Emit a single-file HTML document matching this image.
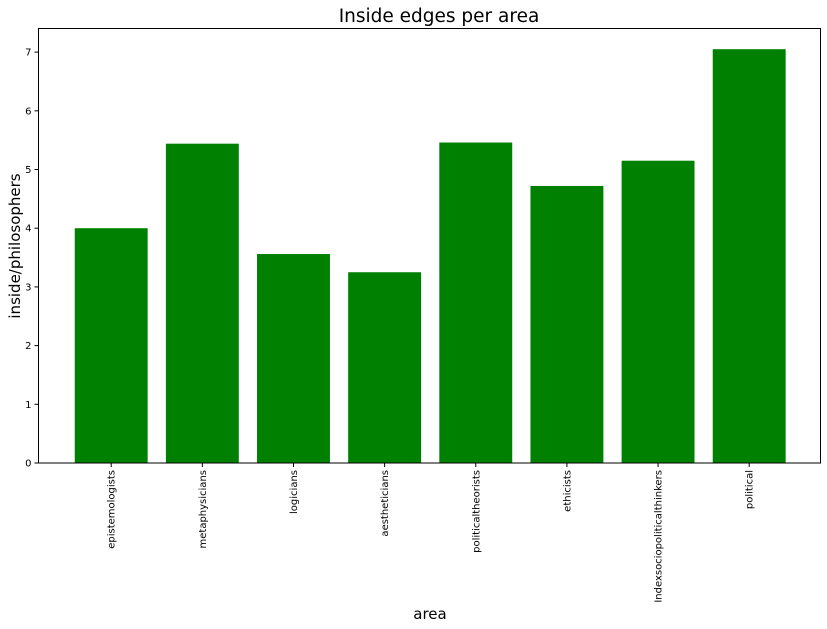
<!DOCTYPE html>
<html><head><meta charset="utf-8">
<style>
html,body{margin:0;padding:0;background:#fff;}
svg{display:block;font-family:"DejaVu Sans","Liberation Sans",sans-serif;}
</style></head>
<body>
<svg id="chart" width="827" height="629" viewBox="0 0 827 629">
<text x="439" y="22" font-size="18.5" text-anchor="middle" fill="#000">Inside edges per area</text>
<text x="430" y="619" font-size="15" text-anchor="middle" fill="#000">area</text>
<text transform="translate(20,246) rotate(-90)" font-size="15" text-anchor="middle" fill="#000">inside/philosophers</text>
<g id="bars"></g>
<g id="yticks"></g>
<g id="xticks"></g>
<rect x="38.5" y="28.5" width="782" height="434.5" fill="none" stroke="#000" stroke-width="1"/>
</svg>
<script>
const categories = ["epistemologists","metaphysicians","logicians","aestheticians","politicaltheorists","ethicists","Indexsociopoliticalthinkers","political"];
const values = [4.0, 5.44, 3.56, 3.25, 5.46, 4.72, 5.15, 7.05];
const yTicks = [0,1,2,3,4,5,6,7];

const NS = "http://www.w3.org/2000/svg";
const plotL = 39.2, plotR = 821.2, plotT = 28.5, plotB = 463;
const maxV = Math.max(...values);
const yMax = maxV * 1.05;
const n = categories.length;
const xMin = -0.4 - 0.05 * (n - 1 + 0.8), xMax = n - 1 + 0.4 + 0.05 * (n - 1 + 0.8);
function xScale(i){ return plotL + (i - xMin) / (xMax - xMin) * (plotR - plotL); }
function yScale(v){ return plotB - v / yMax * (plotB - plotT); }
const unit = (plotR - plotL) / (xMax - xMin);

const bars = document.getElementById('bars');
values.forEach((v, i) => {
  const r = document.createElementNS(NS, 'rect');
  r.setAttribute('x', xScale(i - 0.4));
  r.setAttribute('width', unit * 0.8);
  r.setAttribute('y', yScale(v));
  r.setAttribute('height', yScale(0) - yScale(v));
  r.setAttribute('fill', '#008000');
  
  
  bars.appendChild(r);
});

const yg = document.getElementById('yticks');
yTicks.forEach(t => {
  const y = yScale(t);
  const l = document.createElementNS(NS, 'line');
  l.setAttribute('x1', 34.5); l.setAttribute('x2', 38.5);
  l.setAttribute('y1', y); l.setAttribute('y2', y);
  l.setAttribute('stroke', '#000');
  
  
  yg.appendChild(l);
  const tx = document.createElementNS(NS, 'text');
  tx.setAttribute('x', 31.5); tx.setAttribute('y', y + 3.5);
  tx.setAttribute('font-size', '10'); tx.setAttribute('text-anchor', 'end');
  tx.textContent = t;
  
  
  yg.appendChild(tx);
});

const xg = document.getElementById('xticks');
categories.forEach((c, i) => {
  const x = xScale(i);
  const l = document.createElementNS(NS, 'line');
  l.setAttribute('x1', x); l.setAttribute('x2', x);
  l.setAttribute('y1', plotB); l.setAttribute('y2', plotB + 4);
  l.setAttribute('stroke', '#000');
  
  
  xg.appendChild(l);
  const tx = document.createElementNS(NS, 'text');
  tx.setAttribute('transform', 'translate(' + (x + 3.5) + ',' + (plotB + 7) + ') rotate(-90)');
  tx.setAttribute('font-size', '10'); tx.setAttribute('text-anchor', 'end');
  tx.textContent = c;
  
  
  xg.appendChild(tx);
});
</script>
</body></html>
